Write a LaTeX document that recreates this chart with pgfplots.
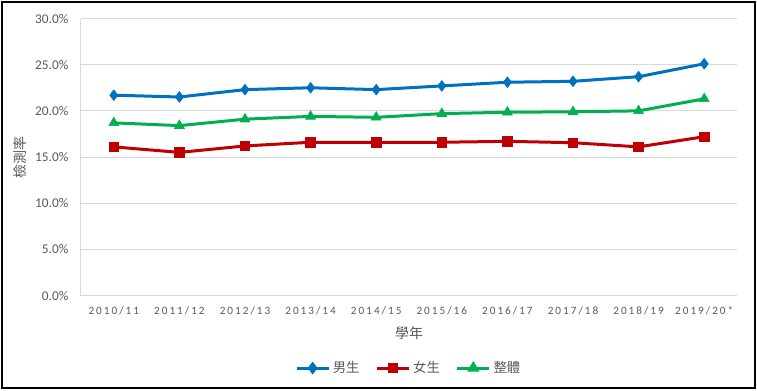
\documentclass[border=0pt]{standalone}
\usepackage{fontspec}
\usepackage{pgfplots}
\pgfplotsset{compat=1.18}
\setmainfont{Carlito}
\newfontfamily\cjk{Noto Sans CJK TC}
\newfontfamily\xfont[LetterSpace=18]{Carlito}
\definecolor{cblue}{HTML}{0070C0}
\definecolor{cred}{HTML}{C00000}
\definecolor{cgreen}{HTML}{00B050}
\definecolor{cgrid}{HTML}{D9D9D9}
\definecolor{ctext}{HTML}{595959}
\begin{document}
\begin{tikzpicture}
\begin{axis}[
  name=ax,
  scale only axis,
  width=492pt, height=207.75pt,
  xmin=-0.5, xmax=9.5,
  ymin=0, ymax=30,
  xtick={0,...,9},
  xticklabels={2010/11,2011/12,2012/13,2013/14,2014/15,2015/16,2016/17,2017/18,2018/19,2019/20*},
  xticklabel style={font=\xfont\fontsize{8.4}{9}\selectfont, text=ctext, yshift=-4pt},
  ytick={0,5,...,30},
  yticklabel={\pgfmathprintnumber[fixed,fixed zerofill,precision=1]{\tick}\%},
  /pgf/number format/assume math mode=true,
  yticklabel style={font=\fontsize{10}{12}\selectfont, text=ctext, xshift=-5pt},
  ymajorgrids, grid style={cgrid, line width=0.75pt},
  axis x line*=bottom, axis y line*=left,
  axis line style={cgrid, line width=0.75pt},
  x axis line style={-}, y axis line style={-},
  major tick length=0pt,
  xlabel={\cjk 學年}, ylabel={\cjk 檢測率},
  xlabel style={font=\cjk\fontsize{10.5}{12}\selectfont, text=ctext, at={(axis description cs:0.5,-0.135)}, anchor=center},
  ylabel style={font=\cjk\fontsize{10.5}{12}\selectfont, text=ctext, at={(axis description cs:-0.093,0.5)}, anchor=center},
  legend style={at={(axis description cs:0.5,-0.262)}, anchor=center, draw=none, fill=none, legend columns=3,
     font=\cjk\fontsize{10}{12}\selectfont, text=ctext,
     /tikz/every even column/.append style={column sep=10pt}},
  legend cell align=left,
  legend image code/.code={
    \draw[#1, mark=none] (0cm,0cm) -- (24pt,0cm);
    \draw[#1, mark options={scale=0.75}] plot coordinates {(12pt,0cm)};
  },
  line width=2.25pt,
  mark options={solid},
]
\addplot[cblue, mark=diamond*, mark size=4pt, mark options={line width=0.5pt}] coordinates {
(0,21.7) (1,21.5) (2,22.3) (3,22.5) (4,22.3) (5,22.7) (6,23.1) (7,23.2) (8,23.7) (9,25.1)};
\addlegendentry{男生}
\addplot[cred, mark=square*, mark size=3.6pt, mark options={line width=0.5pt}] coordinates {
(0,16.1) (1,15.5) (2,16.2) (3,16.6) (4,16.6) (5,16.6) (6,16.7) (7,16.55) (8,16.1) (9,17.2)};
\addlegendentry{女生}
\addplot[cgreen, mark=triangle*, mark size=4.2pt, mark options={line width=0.5pt}] coordinates {
(0,18.7) (1,18.4) (2,19.1) (3,19.4) (4,19.3) (5,19.7) (6,19.85) (7,19.9) (8,20.0) (9,21.3)};
\addlegendentry{整體}
\end{axis}
\draw[black, line width=1.1pt] ([shift={(-59.25pt,-69.4pt)}]ax.south west) rectangle ([shift={(13.5pt,12.4pt)}]ax.north east);
\path ([shift={(-60.75pt,-70.9pt)}]ax.south west) rectangle ([shift={(15pt,13.9pt)}]ax.north east);
\end{tikzpicture}
\end{document}
